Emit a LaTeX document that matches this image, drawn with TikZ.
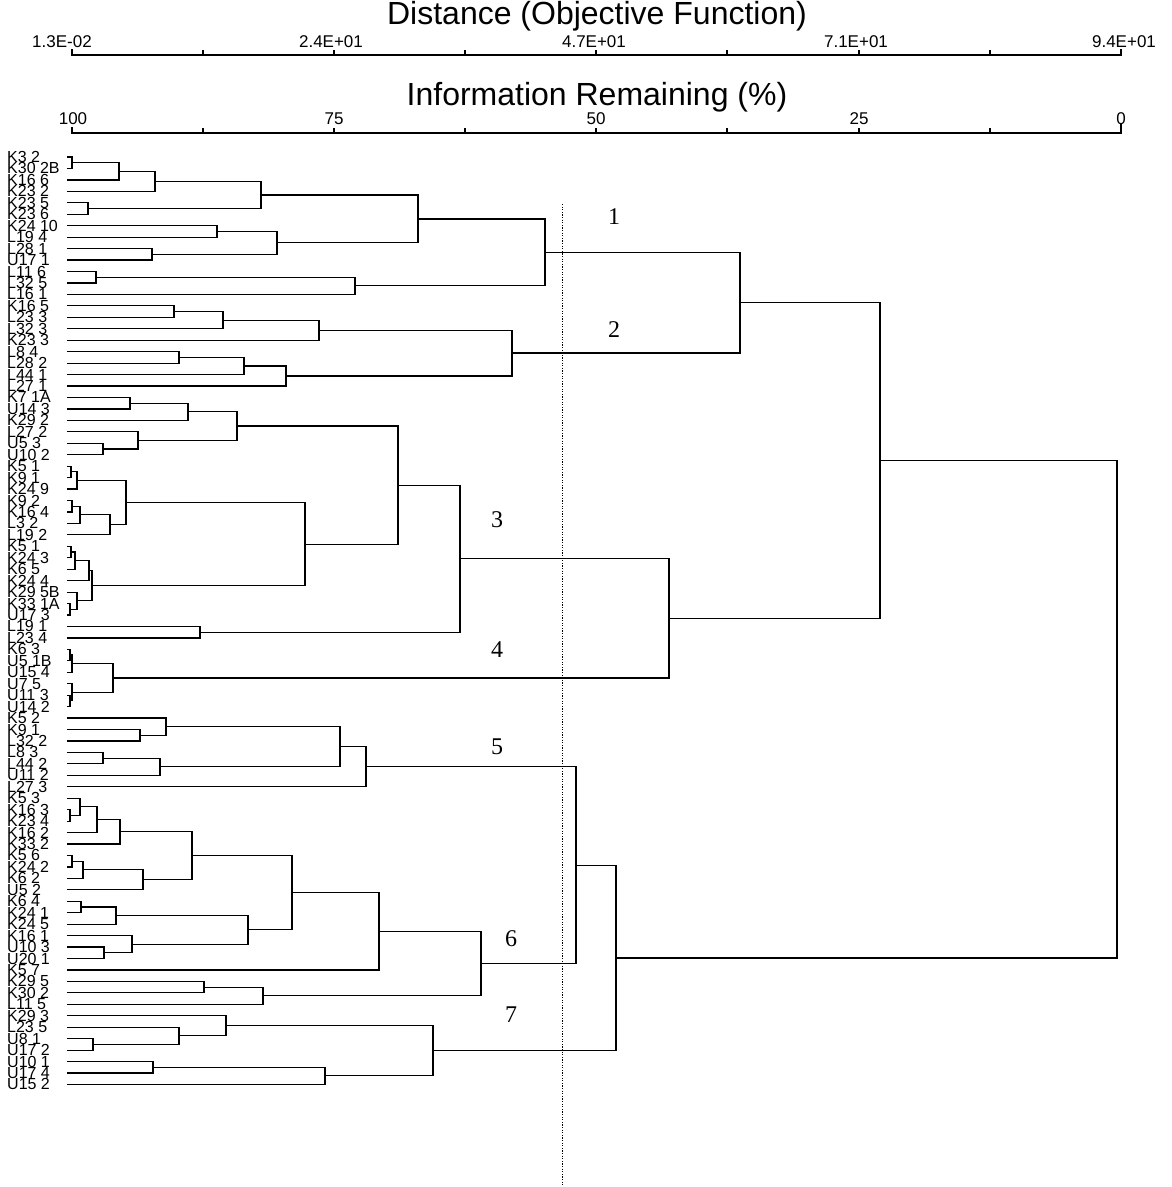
\documentclass[tikz,border=0pt]{standalone}
\usepackage{fontspec}
\setmainfont{Liberation Sans}
\newfontfamily\serifnum{Liberation Serif}
\usetikzlibrary{calc}
\tikzset{
  link/.style={line width=1.2pt},
  axisline/.style={line width=1.5pt},
  leaflabel/.style={anchor=west, inner sep=0pt, font=\fontsize{16}{16}\selectfont},
  ticklabel/.style={inner sep=0pt, font=\fontsize{17}{17}\selectfont},
  axistitle/.style={inner sep=0pt, font=\fontsize{32}{32}\selectfont},
  clusternum/.style={inner sep=0pt, font=\serifnum\fontsize{24}{24}\selectfont},
  cutline/.style={line width=0.9pt, dash pattern=on 1.2pt off 1.4pt}
}
\newcommand\dmerge[4]{%
  \path (#2,0) coordinate (#1x);
  \path ($(#3)!0.5!(#4)$) coordinate (#1m);
  \coordinate (#1) at (#1m -| #1x);
  \draw[link] (#3) -| (#1x |- #4) -- (#4);
}
\begin{document}
\begin{tikzpicture}[x=1pt,y=-1pt]
\useasboundingbox (0,0) rectangle (1171,1187);
% ---- axes ----
\node[axistitle] (dtitle) at (597,16) {Distance (Objective Function)};
\draw[axisline] (72,49) -- (72,55) -- (1121,55) -- (1121,49);
\foreach \tx in {203,334,465,596,727,859,990} \draw[axisline] (\tx,55) -- (\tx,50);
\node[ticklabel] (d1) at (62,42) {1.3E-02};
\node[ticklabel] (d2) at (331,42) {2.4E+01};
\node[ticklabel] (d3) at (594,42) {4.7E+01};
\node[ticklabel] (d4) at (856,42) {7.1E+01};
\node[ticklabel] (d5) at (1124,42) {9.4E+01};
\node[axistitle] (ititle) at (597,97) {Information Remaining (\%)};
\draw[axisline] (72,127) -- (72,133) -- (1121,133) -- (1121,124);
\foreach \tx in {203,334,465,596,727,859,990} \draw[axisline] (\tx,133) -- (\tx,128);
\node[ticklabel] (i1) at (73,119) {100};
\node[ticklabel] (i2) at (334,119) {75};
\node[ticklabel] (i3) at (596,119) {50};
\node[ticklabel] (i4) at (859,119) {25};
\node[ticklabel] (i5) at (1121,119) {0};
% ---- leaves ----
\foreach \lab [count=\i] in {K3 2,K30 2B,K16 6,K23 2,K23 5,K23 6,K24 10,L19 4,L28 1,U17 1,
  L11 6,L32 5,L16 1,K16 5,L23 3,L32 3,K23 3,L8 4,L28 2,L44 1,L27 1,
  K7 1A,U14 3,K29 2,L27 2,U5 3,U10 2,K5 1,K9 1,K24 9,K9 2,K16 4,L3 2,L19 2,
  K5 1,K24 3,K6 5,K24 4,K29 5B,K33 1A,U17 3,L19 1,L23 4,
  K6 3,U5 1B,U15 4,U7 5,U11 3,U14 2,
  K5 2,K9 1,L32 2,L8 3,L44 2,U11 2,L27 3,
  K5 3,K16 3,K23 4,K16 2,K33 2,K5 6,K24 2,K6 2,U5 2,K6 4,K24 1,K24 5,K16 1,U10 3,U20 1,
  K5 7,K29 5,K30 2,L11 5,
  K29 3,L23 5,U8 1,U17 2,U10 1,U17 4,U15 2} {
  \pgfmathsetmacro\yy{157+(\i-1)*11.45}
  \node[leaflabel] (t\i) at (7,\yy) {\lab};
  \coordinate (l\i) at (67,\yy);
}
% ---- cluster 1 ----
\dmerge{m1}{72}{l1}{l2}
\dmerge{m2}{119}{m1}{l3}
\dmerge{m3}{155}{m2}{l4}
\dmerge{m4}{88}{l5}{l6}
\dmerge{m5}{261}{m3}{m4}
\dmerge{m6}{217}{l7}{l8}
\dmerge{m7}{152}{l9}{l10}
\dmerge{m8}{277}{m6}{m7}
\dmerge{m9}{418}{m5}{m8}
\dmerge{m10}{96}{l11}{l12}
\dmerge{m11}{355}{m10}{l13}
\dmerge{c1}{545}{m9}{m11}
% ---- cluster 2 ----
\dmerge{m12}{174}{l14}{l15}
\dmerge{m13}{223}{m12}{l16}
\dmerge{m14}{319}{m13}{l17}
\dmerge{m15}{179}{l18}{l19}
\dmerge{m16}{244}{m15}{l20}
\dmerge{m17}{286}{m16}{l21}
\dmerge{c2}{512}{m14}{m17}
\dmerge{c12}{740}{c1}{c2}
% ---- cluster 3 ----
\dmerge{m18}{130}{l22}{l23}
\dmerge{m19}{188}{m18}{l24}
\dmerge{m20}{103}{l26}{l27}
\dmerge{m21}{138}{l25}{m20}
\dmerge{m22}{237}{m19}{m21}
\dmerge{m23}{71}{l28}{l29}
\dmerge{m24}{77}{m23}{l30}
\dmerge{m25}{72}{l31}{l32}
\dmerge{m26}{80}{m25}{l33}
\dmerge{m27}{110}{m26}{l34}
\dmerge{m28}{126}{m24}{m27}
\dmerge{m29}{71}{l35}{l36}
\dmerge{m30}{75}{m29}{l37}
\dmerge{m31}{89}{m30}{l38}
\dmerge{m32}{70}{l40}{l41}
\dmerge{m33}{77}{l39}{m32}
\dmerge{m34}{92}{m31}{m33}
\dmerge{m35}{305}{m28}{m34}
\dmerge{m36}{398}{m22}{m35}
\dmerge{m37}{200}{l42}{l43}
\dmerge{c3}{460}{m36}{m37}
% ---- cluster 4 ----
\dmerge{m38}{70}{l44}{l45}
\dmerge{m39}{72}{m38}{l46}
\dmerge{m40}{70}{l48}{l49}
\dmerge{m41}{72}{l47}{m40}
\dmerge{c4}{113}{m39}{m41}
\dmerge{c34}{669}{c3}{c4}
\dmerge{c1234}{880}{c12}{c34}
% ---- cluster 5 ----
\dmerge{m42}{140}{l51}{l52}
\dmerge{m43}{166}{l50}{m42}
\dmerge{m44}{103}{l53}{l54}
\dmerge{m45}{160}{m44}{l55}
\dmerge{m46}{340}{m43}{m45}
\dmerge{c5}{366}{m46}{l56}
% ---- cluster 6 ----
\dmerge{m47}{70}{l58}{l59}
\dmerge{m48}{80}{l57}{m47}
\dmerge{m49}{97}{m48}{l60}
\dmerge{m50}{120}{m49}{l61}
\dmerge{m51}{72}{l62}{l63}
\dmerge{m52}{83}{m51}{l64}
\dmerge{m53}{143}{m52}{l65}
\dmerge{m54}{192}{m50}{m53}
\dmerge{m55}{81}{l66}{l67}
\dmerge{m56}{116}{m55}{l68}
\dmerge{m57}{104}{l70}{l71}
\dmerge{m58}{132}{l69}{m57}
\dmerge{m59}{248}{m56}{m58}
\dmerge{m60}{292}{m54}{m59}
\dmerge{m61}{379}{m60}{l72}
\dmerge{m62}{204}{l73}{l74}
\dmerge{m63}{263}{m62}{l75}
\dmerge{c6}{481}{m61}{m63}
\dmerge{c56}{576}{c5}{c6}
% ---- cluster 7 ----
\dmerge{m64}{93}{l78}{l79}
\dmerge{m65}{179}{l77}{m64}
\dmerge{m66}{226}{l76}{m65}
\dmerge{m67}{153}{l80}{l81}
\dmerge{m68}{325}{m67}{l82}
\dmerge{c7}{433}{m66}{m68}
\dmerge{c567}{616}{c56}{c7}
% ---- root ----
\dmerge{root}{1117}{c1234}{c567}
% ---- cut line ----
\coordinate (cuttop) at (562,204);
\coordinate (cutbot) at (562,1187);
\draw[cutline] (cuttop) -- (cutbot);
% ---- cluster numbers ----
\node[clusternum] (n1) at (614,217) {1};
\node[clusternum] (n2) at (614,330) {2};
\node[clusternum] (n3) at (497,520) {3};
\node[clusternum] (n4) at (497,650) {4};
\node[clusternum] (n5) at (497,747) {5};
\node[clusternum] (n6) at (511,939) {6};
\node[clusternum] (n7) at (511,1015) {7};
\end{tikzpicture}
\end{document}
